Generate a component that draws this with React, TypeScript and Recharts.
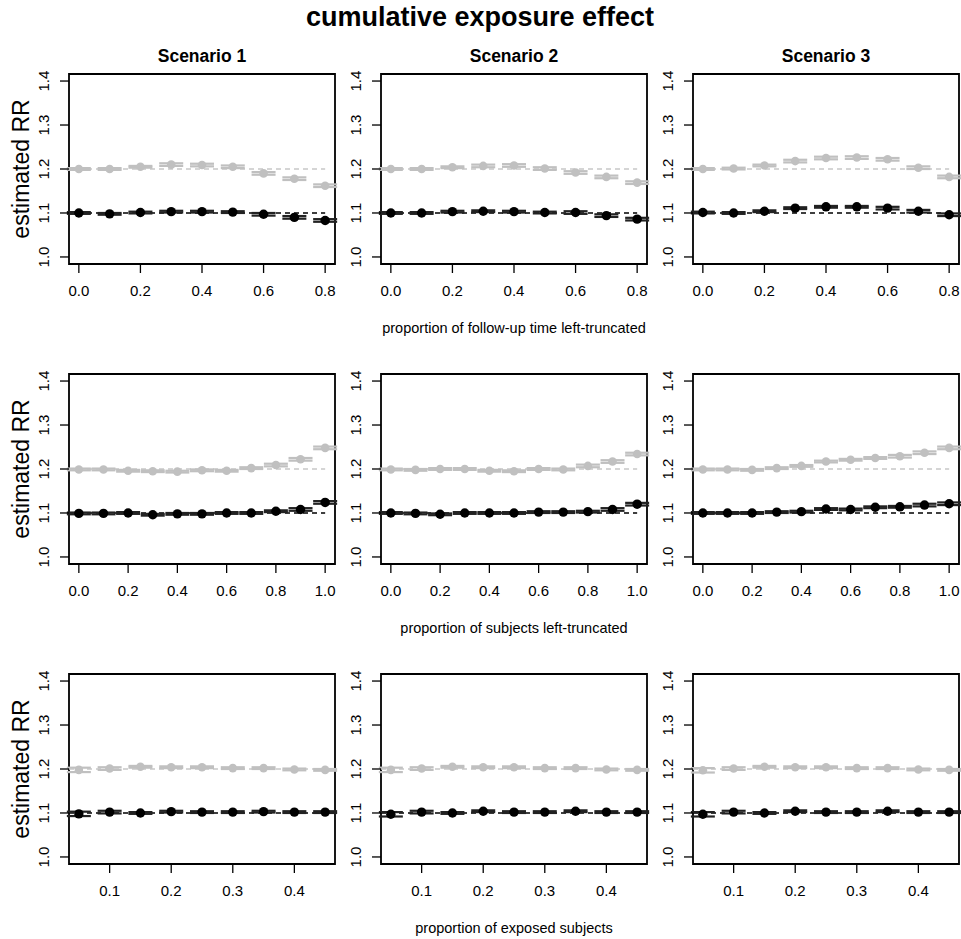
import React from 'react';
import { ScatterChart, Scatter, XAxis, YAxis, ErrorBar, ReferenceLine, ReferenceArea } from 'recharts';

const FONT = '"Liberation Sans", Arial, Helvetica, sans-serif';

// x positions of the simulation settings
const xTrunc = [0, 0.1, 0.2, 0.3, 0.4, 0.5, 0.6, 0.7, 0.8];
const xSubj = [0, 0.1, 0.2, 0.3, 0.4, 0.5, 0.6, 0.7, 0.8, 0.9, 1.0];
const xExpo = [0.05, 0.1, 0.15, 0.2, 0.25, 0.3, 0.35, 0.4, 0.45];

// tick labels
const xTicksTrunc = [0, 0.2, 0.4, 0.6, 0.8];
const xTicksSubj = [0, 0.2, 0.4, 0.6, 0.8, 1.0];
const xTicksExpo = [0.1, 0.2, 0.3, 0.4];
const yTicks = [1.0, 1.1, 1.2, 1.3, 1.4];

const scenarioTitles = ['Scenario 1', 'Scenario 2', 'Scenario 3'];
const rowXLabels = [
  'proportion of follow-up time left-truncated',
  'proportion of subjects left-truncated',
  'proportion of exposed subjects',
];
const mainTitle = 'cumulative exposure effect';
const yLabel = 'estimated RR';

// true values (reference lines)
const trueBlack = 1.1;
const trueGray = 1.2;

// Row 1: proportion of follow-up time left-truncated
const truncS1Gray = [1.2, 1.2, 1.205, 1.21, 1.209, 1.205, 1.19, 1.178, 1.162];
const truncS1Black = [1.1, 1.098, 1.101, 1.103, 1.103, 1.102, 1.097, 1.09, 1.083];
const truncS2Gray = [1.2, 1.2, 1.204, 1.207, 1.208, 1.201, 1.192, 1.182, 1.169];
const truncS2Black = [1.1, 1.1, 1.103, 1.104, 1.103, 1.101, 1.101, 1.094, 1.086];
const truncS3Gray = [1.2, 1.201, 1.208, 1.218, 1.225, 1.226, 1.222, 1.203, 1.182];
const truncS3Black = [1.101, 1.1, 1.104, 1.111, 1.114, 1.114, 1.111, 1.104, 1.096];
const truncErrGray = [0.002, 0.002, 0.002, 0.003, 0.003, 0.003, 0.003, 0.003, 0.003];
const truncErrBlack = [0.002, 0.002, 0.002, 0.002, 0.002, 0.002, 0.003, 0.003, 0.003];

// Row 2: proportion of subjects left-truncated
const subjS1Gray = [1.199, 1.199, 1.196, 1.195, 1.194, 1.197, 1.196, 1.202, 1.209, 1.222, 1.248];
const subjS1Black = [1.099, 1.099, 1.1, 1.096, 1.098, 1.098, 1.1, 1.1, 1.104, 1.108, 1.124];
const subjS2Gray = [1.199, 1.198, 1.2, 1.2, 1.196, 1.195, 1.2, 1.199, 1.207, 1.217, 1.234];
const subjS2Black = [1.1, 1.099, 1.097, 1.1, 1.1, 1.1, 1.102, 1.102, 1.103, 1.108, 1.12];
const subjS3Gray = [1.199, 1.199, 1.198, 1.202, 1.207, 1.217, 1.221, 1.225, 1.229, 1.237, 1.248];
const subjS3Black = [1.1, 1.1, 1.1, 1.102, 1.103, 1.109, 1.108, 1.113, 1.114, 1.118, 1.121];
const subjErrGray = [0.002, 0.002, 0.002, 0.002, 0.002, 0.002, 0.002, 0.002, 0.003, 0.003, 0.003];
const subjErrBlack = [0.002, 0.002, 0.002, 0.002, 0.002, 0.002, 0.002, 0.002, 0.002, 0.003, 0.003];

// Row 3: proportion of exposed subjects
const expoS1Gray = [1.198, 1.201, 1.205, 1.204, 1.204, 1.202, 1.202, 1.199, 1.198];
const expoS1Black = [1.098, 1.102, 1.1, 1.103, 1.102, 1.102, 1.103, 1.102, 1.102];
const expoS2Gray = [1.198, 1.201, 1.205, 1.204, 1.204, 1.202, 1.202, 1.199, 1.198];
const expoS2Black = [1.097, 1.102, 1.1, 1.104, 1.102, 1.102, 1.104, 1.102, 1.102];
const expoS3Gray = [1.197, 1.201, 1.205, 1.204, 1.204, 1.202, 1.202, 1.199, 1.198];
const expoS3Black = [1.097, 1.102, 1.1, 1.104, 1.102, 1.102, 1.104, 1.102, 1.102];
const expoErrGray = [0.005, 0.003, 0.002, 0.002, 0.002, 0.002, 0.002, 0.002, 0.002];
const expoErrBlack = [0.005, 0.003, 0.002, 0.002, 0.002, 0.002, 0.002, 0.002, 0.002];

// layout
const COL_LEFT = [69, 381, 693];
const ROW_TOP = [74, 374, 674];
const PLOT_W = 266;
const PLOT_H = 190;
const YAXIS_W = 60;
const M_TOP = 10;
const M_RIGHT = 10;
const XAXIS_H = 45;

const Y_DOMAIN: [number, number] = [0.984, 1.416];

const GRAY = '#c0c0c0';
const GRAY_LINE = '#c8c8c8';
const BLACK = '#000000';

const YTick = (props: any) => {
  const { x, y, payload } = props;
  return (
    <text
      x={x}
      y={y}
      transform={`rotate(-90, ${x}, ${y})`}
      textAnchor="middle"
      fontSize={15}
      fontFamily={FONT}
      fill="#000"
    >
      {Number(payload.value).toFixed(1)}
    </text>
  );
};

const makeDot = (fill: string, r: number) => (props: any) => {
  const { cx, cy } = props;
  if (cx == null || cy == null) return <g />;
  return <circle cx={cx} cy={cy} r={r} fill={fill} />;
};
const grayDot = makeDot(GRAY, 4.3);
const blackDot = makeDot(BLACK, 4.7);

type PanelProps = {
  xs: number[];
  ticks: number[];
  gray: number[];
  grayErr: number[];
  black: number[];
  blackErr: number[];
  fullRef: boolean;
  left: number;
  top: number;
};

function Panel({ xs, ticks, gray, grayErr, black, blackErr, fullRef, left, top }: PanelProps) {
  const xmin = xs[0];
  const xmax = xs[xs.length - 1];
  const ext = (xmax - xmin) * 0.04;
  const xDomain: [number, number] = [xmin - ext, xmax + ext];
  const refEnd = fullRef ? xDomain[1] : xmax;
  const grayData = xs.map((x, i) => ({ x, y: gray[i], err: grayErr[i] }));
  const blackData = xs.map((x, i) => ({ x, y: black[i], err: blackErr[i] }));
  return (
    <div style={{ position: 'absolute', left: left - YAXIS_W, top: top - M_TOP }}>
      <ScatterChart
        width={PLOT_W + YAXIS_W + M_RIGHT}
        height={PLOT_H + M_TOP + XAXIS_H}
        margin={{ top: M_TOP, right: M_RIGHT, left: 0, bottom: 0 }}
      >
        <XAxis
          type="number"
          dataKey="x"
          domain={xDomain}
          ticks={ticks}
          allowDataOverflow
          axisLine={false}
          tickLine={{ stroke: '#000', strokeWidth: 1.3 }}
          tickSize={9}
          tickMargin={12}
          height={XAXIS_H}
          tickFormatter={(v: number) => v.toFixed(1)}
          tick={{ fontSize: 15, fill: '#000', fontFamily: FONT }}
          interval={0}
        />
        <YAxis
          type="number"
          dataKey="y"
          domain={Y_DOMAIN}
          ticks={yTicks}
          allowDataOverflow
          axisLine={false}
          tickLine={{ stroke: '#000', strokeWidth: 1.3 }}
          tickSize={9}
          tickMargin={11}
          width={YAXIS_W}
          tick={<YTick />}
          interval={0}
        />
        <ReferenceArea
          x1={xDomain[0]}
          x2={xDomain[1]}
          y1={Y_DOMAIN[0]}
          y2={Y_DOMAIN[1]}
          fill="none"
          fillOpacity={0}
          stroke="#000"
          strokeWidth={1.8}
          ifOverflow="visible"
        />
        <ReferenceLine
          segment={[{ x: xDomain[0], y: trueGray }, { x: refEnd, y: trueGray }]}
          stroke={GRAY_LINE}
          strokeWidth={1.4}
          strokeDasharray="5 4"
          ifOverflow="visible"
        />
        <ReferenceLine
          segment={[{ x: xDomain[0], y: trueBlack }, { x: refEnd, y: trueBlack }]}
          stroke={BLACK}
          strokeWidth={1.3}
          strokeDasharray="5 4"
          ifOverflow="visible"
        />
        <Scatter data={grayData} dataKey="y" isAnimationActive={false} shape={grayDot}>
          <ErrorBar dataKey="err" direction="y" width={12} stroke={GRAY} strokeWidth={2.2} isAnimationActive={false} />
        </Scatter>
        <Scatter data={blackData} dataKey="y" isAnimationActive={false} shape={blackDot}>
          <ErrorBar dataKey="err" direction="y" width={12} stroke="#222" strokeWidth={2.2} isAnimationActive={false} />
        </Scatter>
      </ScatterChart>
    </div>
  );
}

const rows = [
  {
    xs: xTrunc,
    ticks: xTicksTrunc,
    fullRef: false,
    gray: [truncS1Gray, truncS2Gray, truncS3Gray],
    black: [truncS1Black, truncS2Black, truncS3Black],
    grayErr: truncErrGray,
    blackErr: truncErrBlack,
  },
  {
    xs: xSubj,
    ticks: xTicksSubj,
    fullRef: false,
    gray: [subjS1Gray, subjS2Gray, subjS3Gray],
    black: [subjS1Black, subjS2Black, subjS3Black],
    grayErr: subjErrGray,
    blackErr: subjErrBlack,
  },
  {
    xs: xExpo,
    ticks: xTicksExpo,
    fullRef: true,
    gray: [expoS1Gray, expoS2Gray, expoS3Gray],
    black: [expoS1Black, expoS2Black, expoS3Black],
    grayErr: expoErrGray,
    blackErr: expoErrBlack,
  },
];

export default function App() {
  return (
    <div
      style={{
        position: 'absolute',
        left: 0,
        top: 0,
        width: 961,
        height: 939,
        background: '#fff',
        fontFamily: FONT,
        overflow: 'hidden',
      }}
    >
      <svg width={961} height={939} style={{ position: 'absolute', left: 0, top: 0 }}>
        <text x={480} y={26} textAnchor="middle" fontSize={27} fontWeight="bold" fontFamily={FONT} fill="#000">
          {mainTitle}
        </text>
        {scenarioTitles.map((t, c) => (
          <text
            key={t}
            x={COL_LEFT[c] + PLOT_W / 2}
            y={62}
            textAnchor="middle"
            fontSize={17.5}
            fontWeight="bold"
            fontFamily={FONT}
            fill="#000"
          >
            {t}
          </text>
        ))}
        {rowXLabels.map((t, r) => (
          <text
            key={t}
            x={COL_LEFT[1] + PLOT_W / 2}
            y={ROW_TOP[r] + 259}
            textAnchor="middle"
            fontSize={14.5}
            fontFamily={FONT}
            fill="#000"
          >
            {t}
          </text>
        ))}
        {ROW_TOP.map((t, r) => (
          <text
            key={r}
            x={29}
            y={t + PLOT_H / 2}
            transform={`rotate(-90, 29, ${t + PLOT_H / 2})`}
            textAnchor="middle"
            fontSize={23}
            fontFamily={FONT}
            fill="#000"
          >
            {yLabel}
          </text>
        ))}
      </svg>
      {rows.map((row, r) =>
        [0, 1, 2].map((c) => (
          <Panel
            key={`${r}-${c}`}
            xs={row.xs}
            ticks={row.ticks}
            gray={row.gray[c]}
            grayErr={row.grayErr}
            black={row.black[c]}
            blackErr={row.blackErr}
            fullRef={row.fullRef}
            left={COL_LEFT[c]}
            top={ROW_TOP[r]}
          />
        ))
      )}
    </div>
  );
}
